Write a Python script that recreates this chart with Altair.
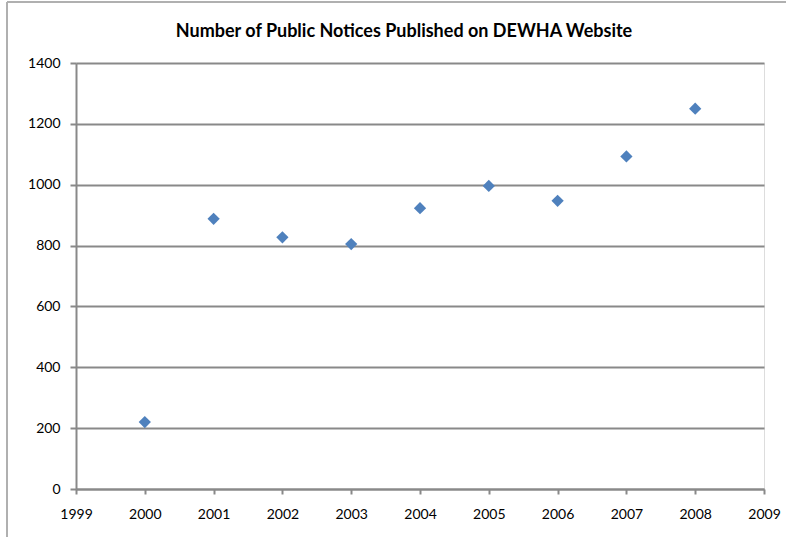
import altair as alt
import pandas as pd

years = [2000, 2001, 2002, 2003, 2004, 2005, 2006, 2007, 2008]
notices = [220, 888, 827, 805, 923, 996, 947, 1093, 1250]
x_ticks = list(range(1999, 2010))
y_ticks = [0, 200, 400, 600, 800, 1000, 1200, 1400]
title_text = "Number of Public Notices Published on DEWHA Website"

df = pd.DataFrame({"year": years, "notices": notices})

axis_color = "#898989"

points = alt.Chart(df).mark_point(
    shape="diamond", filled=True, size=150, color="#4F81BD", opacity=1
).encode(
    x=alt.X("year:Q",
            scale=alt.Scale(domain=[1999, 2009], nice=False, zero=False),
            axis=alt.Axis(values=x_ticks, format="d", title=None, grid=False,
                          domainColor=axis_color, domainWidth=2,
                          tickColor=axis_color, tickWidth=2, tickSize=5,
                          labelFont="Lato", labelFontSize=14, labelColor="#000000",
                          labelPadding=13, labelFlush=False)),
    y=alt.Y("notices:Q",
            scale=alt.Scale(domain=[0, 1400], nice=False),
            axis=alt.Axis(values=y_ticks, format="d", title=None, grid=True,
                          gridColor=axis_color, gridWidth=2,
                          domainColor=axis_color, domainWidth=2,
                          tickColor=axis_color, tickWidth=2, tickSize=6,
                          labelFont="Lato", labelFontSize=14, labelColor="#000000",
                          labelPadding=10)),
)

frame_left = alt.Chart(df).mark_rule(color="#b0b0b0", strokeWidth=1.5).encode(
    x=alt.value(-69), y=alt.value(-61), y2=alt.value(480)
)
frame_top = alt.Chart(df).mark_rule(color="#b0b0b0", strokeWidth=1.5).encode(
    x=alt.value(-69), x2=alt.value(720), y=alt.value(-61)
)

title = alt.Chart(pd.DataFrame({"t": [title_text]})).mark_text(
    font="Lato", fontSize=18, fontWeight="bold", color="#000000",
    align="center", baseline="alphabetic"
).encode(
    text="t:N", x=alt.value(328), y=alt.value(-26)
)

chart = alt.layer(frame_left, frame_top, points, title).properties(
    width=688,
    height=426,
    autosize=alt.AutoSizeParams(type="none"),
    padding={"left": 76, "top": 63, "right": 22, "bottom": 48},
).configure_view(stroke=None).configure(background="white")

chart.save("out.html", embed_options={"renderer": "svg", "actions": False})
